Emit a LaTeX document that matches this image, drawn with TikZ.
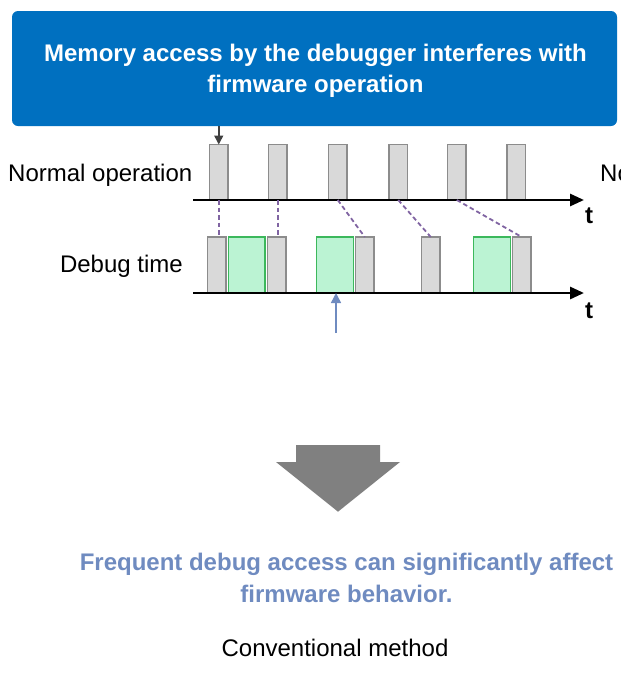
\documentclass[tikz,border=0pt]{standalone}
\usepackage{fontspec}
\setmainfont{Liberation Sans}
\usetikzlibrary{arrows.meta}
\definecolor{boxblue}{RGB}{0,112,192}
\definecolor{slotgray}{RGB}{217,217,217}
\definecolor{slotedge}{RGB}{140,140,140}
\definecolor{dbgfill}{RGB}{187,243,211}
\definecolor{dbgedge}{RGB}{60,184,92}
\definecolor{linkpurple}{RGB}{128,100,162}
\definecolor{notecolor}{RGB}{111,139,192}
\definecolor{bigarrow}{RGB}{128,128,128}
\definecolor{pointer}{RGB}{64,64,64}
\tikzset{
  bluebox/.style={draw=none, fill=boxblue, rounded corners=6pt, minimum width=605pt, minimum height=115pt, inner sep=0pt},
  titletext/.style={text=white, font=\fontsize{24}{31}\selectfont\bfseries, align=center, inner sep=0pt},
  label/.style={font=\fontsize{24}{28}\selectfont, inner sep=0pt},
  tlabel/.style={font=\fontsize{24}{28}\selectfont\bfseries, inner sep=0pt, anchor=base},
  slot/.style={draw=slotedge, fill=slotgray, line width=1.3pt, minimum width=18.5pt, minimum height=55.5pt, inner sep=0pt, outer sep=0pt, anchor=north west},
  dbg/.style={draw=dbgedge, fill=dbgfill, line width=1.3pt, minimum height=55.5pt, inner sep=0pt, outer sep=0pt, anchor=north west},
  timeaxis/.style={line width=2.8pt, -{Triangle[length=14pt,width=12pt]}},
  link/.style={draw=linkpurple, line width=1.8pt, dash pattern=on 4.5pt off 3pt},
}
\begin{document}
\begin{tikzpicture}[x=1pt,y=-1pt]
\useasboundingbox (0,0) rectangle (621,675);
\clip (0,0) rectangle (621,675);

% headline box (base anchor of a two-line node sits on its last line)
\node[bluebox] (box) at (314.5,68.5) {};
\node[titletext, anchor=base] (title) at (315.5,92.7) {Memory access by the debugger interferes with\\firmware operation};

% row labels
\node[label, anchor=base west] (lnormal) at (8,181) {Normal operation};
\node[label, anchor=base west] (lnormal2) at (600,181) {Normal operation};
\node[label, anchor=base east] (ldebug) at (183,272.7) {Debug time};

% normal operation slots
\node[slot] (n1) at (209.5,144.5) {};
\node[slot] (n2) at (268.5,144.5) {};
\node[slot] (n3) at (328.5,144.5) {};
\node[slot] (n4) at (389,144.5) {};
\node[slot] (n5) at (447.5,144.5) {};
\node[slot] (n6) at (507,144.5) {};

% debug time slots and debugger accesses
\node[slot] (d1) at (207.5,237) {};
\node[dbg, minimum width=36.5pt] (g1) at (228.5,237) {};
\node[slot] (d2) at (267.5,237) {};
\node[dbg, minimum width=37pt] (g2) at (316.5,237) {};
\node[slot] (d3) at (355.5,237) {};
\node[slot] (d4) at (421.5,237) {};
\node[dbg, minimum width=37pt] (g3) at (473.5,237) {};
\node[slot] (d5) at (512.5,237) {};

% time axes
\coordinate (a1s) at (193,200);
\coordinate (a1e) at (584,200);
\coordinate (a2s) at (193,293);
\coordinate (a2e) at (584,293);
\draw[timeaxis] (a1s) -- (a1e);
\draw[timeaxis] (a2s) -- (a2e);
\node[tlabel] (t1) at (589,223) {t};
\node[tlabel] (t2) at (589,318) {t};

% shifts of each slot
\draw[link] (n1.south) -- (n1.south |- d1.north);
\draw[link] (n2.south) -- (n2.south |- d2.north);
\draw[link] (n3.south) -- (d3.north);
\draw[link] (n4.south) -- (d4.north);
\draw[link] (n5.south) -- (d5.north);

% pointers
\draw[line width=1.5pt, draw=pointer, -{Triangle[length=9pt,width=9pt]}] (box.south -| n1.north) -- (n1.north);
\coordinate (probe) at (336,333);
\draw[line width=1.5pt, draw=notecolor, -{Triangle[length=10pt,width=10pt]}] (probe) -- (probe |- a2s);

% conclusion arrow
\fill[bigarrow] (296,445) -- (380,445) -- (380,462) -- (400,462) -- (338,511.7) -- (276,462) -- (296,462) -- cycle;

\node[font=\fontsize{24}{32}\selectfont\bfseries, text=notecolor, align=center, inner sep=0pt, anchor=base] (note) at (346.5,602) {Frequent debug access can significantly affect\\firmware behavior.};
\node[label, anchor=base] (caption) at (335,656.7) {Conventional method};
\end{tikzpicture}
\end{document}
